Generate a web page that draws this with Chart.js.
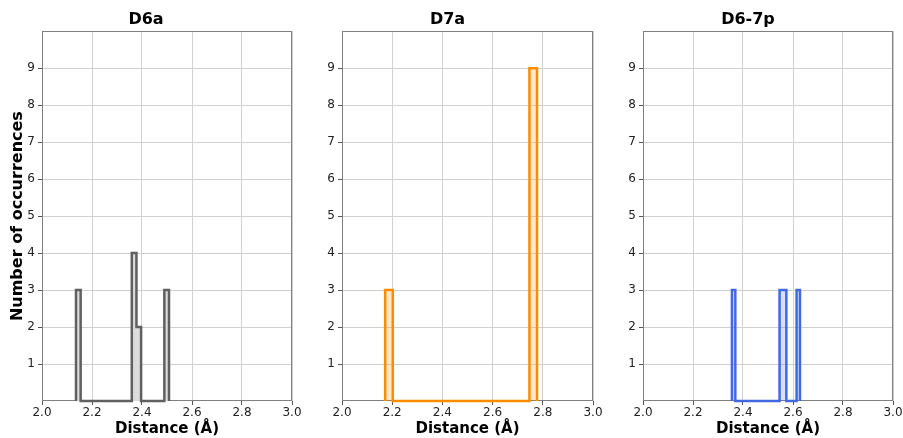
<!DOCTYPE html>
<html lang="en">
<head>
  <meta charset="UTF-8" />
  <title>Distance histograms</title>
  <script src="https://cdn.jsdelivr.net/npm/chart.js"></script>
  <style>
    html, body { margin: 0; padding: 0; background: #fff; overflow: hidden; }
    #wrap { position: relative; width: 903px; height: 438px; }
    #wrap div { position: absolute; top: 0; height: 438px; }
  </style>
</head>
<body>
  <div id="wrap">
    <div id="p1" style="left:0px;width:302px"><canvas id="c1"></canvas></div>
    <div id="p2" style="left:302px;width:301px"><canvas id="c2"></canvas></div>
    <div id="p3" style="left:603px;width:300px"><canvas id="c3"></canvas></div>
  </div>

  <script>
    // histogram counts (20 bins each) and bin range
    const titles = ["D6a", "D7a", "D6-7p"];
    const binRangeD6a  = [2.136, 2.508];
    const countsD6a    = [3,0,0,0,0,0,0,0,0,0,0,0,4,2,0,0,0,0,0,3];
    const binRangeD7a  = [2.172, 2.777];
    const countsD7a    = [3,0,0,0,0,0,0,0,0,0,0,0,0,0,0,0,0,0,0,9];
    const binRangeD67p = [2.3557, 2.6279];
    const countsD67p   = [3,0,0,0,0,0,0,0,0,0,0,0,0,0,3,3,0,0,0,3];

    const xTicks = [2.0, 2.2, 2.4, 2.6, 2.8, 3.0];
    const yTicks = [1, 2, 3, 4, 5, 6, 7, 8, 9];

    const FONT = "'DejaVu Sans', sans-serif";

    // outline of a step histogram (like matplotlib histtype='step')
    function stepPoints(range, counts) {
      const n = counts.length;
      const w = (range[1] - range[0]) / n;
      const pts = [{ x: range[0], y: 0 }];
      for (let i = 0; i < n; i++) {
        pts.push({ x: range[0] + i * w, y: counts[i] });
        pts.push({ x: range[0] + (i + 1) * w, y: counts[i] });
      }
      pts.push({ x: range[1], y: 0 });
      return pts;
    }

    const frame = {
      id: "frame",
      beforeDatasetsDraw(chart) {
        const { ctx, chartArea: a } = chart;
        ctx.save();
        ctx.strokeStyle = "#808080";
        ctx.lineWidth = 1;
        ctx.strokeRect(Math.round(a.left) + 0.5, Math.round(a.top) + 0.5,
                       Math.round(a.right - a.left) - 1, Math.round(a.bottom - a.top) - 1);
        ctx.restore();
      }
    };

    function makeChart(id, title, range, counts, edge, fill, yTitle, yWidth) {
      return new Chart(document.getElementById(id), {
        type: "line",
        data: {
          datasets: [{
            data: stepPoints(range, counts),
            borderColor: edge,
            backgroundColor: fill,
            borderWidth: 2.5,
            borderJoinStyle: "miter",
            fill: "origin",
            tension: 0,
            pointRadius: 0,
            clip: false
          }]
        },
        options: {
          responsive: true,
          maintainAspectRatio: false,
          animation: false,
          events: [],
          layout: { padding: { left: 0, right: 10, top: 0, bottom: 0 } },
          plugins: {
            legend: { display: false },
            tooltip: { enabled: false },
            title: {
              display: true,
              text: title,
              color: "#000",
              font: { family: FONT, size: 16, weight: "bold" },
              padding: { top: 10, bottom: 2 }
            }
          },
          scales: {
            x: {
              type: "linear",
              min: 2.0,
              max: 3.0,
              afterBuildTicks: s => { s.ticks = xTicks.map(v => ({ value: v })); },
              afterFit: s => { s.height = 37; s.paddingLeft = 0; s.paddingRight = 0; },
              grid: { color: "#d0d0d0", tickColor: "#555", tickLength: 4, lineWidth: 1 },
              border: { display: false },
              ticks: {
                color: "#222",
                padding: 1,
                maxRotation: 0,
                font: { family: FONT, size: 12 },
                callback: v => v.toFixed(1)
              },
              title: {
                display: true,
                text: "Distance (Å)",
                color: "#000",
                font: { family: FONT, size: 15, weight: "bold" },
                padding: { top: 0, bottom: 0 }
              }
            },
            y: {
              min: 0,
              max: 10,
              afterBuildTicks: s => { s.ticks = yTicks.map(v => ({ value: v })); },
              afterFit: s => { s.width = yWidth; s.paddingTop = 0; s.paddingBottom = 0; },
              grid: { color: "#d0d0d0", tickColor: "#555", tickLength: 4, lineWidth: 1 },
              border: { display: false },
              ticks: {
                color: "#222",
                padding: 3,
                font: { family: FONT, size: 12 }
              },
              title: {
                display: yTitle,
                text: "Number of occurrences",
                color: "#000",
                font: { family: FONT, size: 16, weight: "bold" },
                padding: { top: 8.5, bottom: 0 }
              }
            }
          }
        },
        plugins: [frame]
      });
    }

    makeChart("c1", titles[0], binRangeD6a, countsD6a, "#606060", "#dcdcdc", true, 42);
    makeChart("c2", titles[1], binRangeD7a, countsD7a, "#ff8c00", "rgba(255,140,0,0.2)", false, 40);
    makeChart("c3", titles[2], binRangeD67p, countsD67p, "#4169e1", "rgba(65,105,225,0.2)", false, 40);
  </script>
</body>
</html>
